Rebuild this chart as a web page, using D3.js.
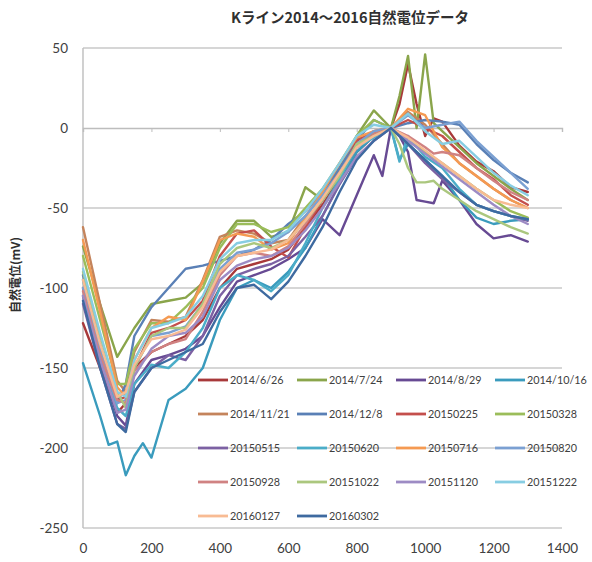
<!DOCTYPE html>
<html>
<head>
<meta charset="utf-8">
<script src="https://cdn.jsdelivr.net/npm/d3@7"></script>
<style>
  html, body { margin: 0; padding: 0; background: #fff; }
  svg { display: block; }
  .num { font-family: Lato, "Liberation Sans", sans-serif; fill: #404040; }
  .jp { font-family: "Noto Sans CJK JP", sans-serif; fill: #303030; }
</style>
</head>
<body>
<svg id="chart" width="592" height="562"></svg>
<script>
// Measurement positions along the K line (m); null = not measured at that point
const _ = null;
const positions = [0, 50, 75, 100, 125, 150, 175, 200, 250, 300, 350, 400, 450, 500, 550, 600, 650, 700,
                   750, 800, 850, 875, 900, 925, 950, 975, 1000, 1025, 1050, 1100, 1150, 1200, 1250, 1300];

const seriesNames = ["2014/6/26", "2014/7/24", "2014/8/29", "2014/10/16", "2014/11/21", "2014/12/8",
                     "20150225", "20150328", "20150515", "20150620", "20150716", "20150820",
                     "20150928", "20151022", "20151120", "20151222", "20160127", "20160302"];

const seriesColors = ["#a8393a", "#8aa54b", "#674a93", "#3a9bbd", "#c4845c", "#5a80b6",
                      "#c44f4c", "#9bbd5a", "#7c61a3", "#4badc8", "#f59a52", "#7ba0d2",
                      "#d08282", "#abc77e", "#9d8bc4", "#87cde2", "#f8bb93", "#3e6aa0"];

// Self potential (mV), one array per survey date, aligned with `positions`
const v20140626 = [-122,-150,_,-178,-172,-150,_,-140,-135,-130,-120,-100,-88,-85,-82,-76,-62,-48,-32,-15,-5,_,0,15,40,15,-5,6,4,-11,-21,-27,-37,-40];
const v20140724 = [-74,-110,_,-143,_,-125,_,-110,-108,-106,-97,-72,-58,-58,-68,-65,-37,-45,-25,-5,11,_,0,20,45,0,46,3,-2,-12,-22,-30,-38,-45];
const v20140829 = [-105,-145,_,-180,-186,-160,_,-145,-142,-138,-130,-112,-96,-92,-88,-82,-75,-57,-67,-42,-17,-30,0,-5,-15,-45,-46,-47,-33,-45,-60,-69,-67,-71];
const v20141016 = [-147,-180,-198,-196,-217,-205,-197,-206,-170,-163,-150,-120,-100,-95,-100,-90,-75,-55,-35,-15,-5,_,0,-20,-10,_,-20,_,-30,-45,-56,-60,-58,-57];
const v20141121 = [-62,-110,_,-158,-165,-140,_,-120,-121,-118,-95,-68,-64,-66,-72,-70,-55,-42,-25,-10,-3,_,0,_,10,_,2,_,-10,-22,-30,-38,-45,-50];
const v20141208 = [-92,-135,_,-172,-160,-130,_,-112,-100,-88,-86,-83,-80,-76,-70,-60,-52,-40,-25,-8,5,_,0,_,3,_,5,_,4,2,-10,-20,-28,-34];
const v20150225 = [-100,-140,_,-170,-168,-150,_,-128,-125,-120,-108,-80,-66,-64,-74,-81,-62,-45,-30,-8,-2,_,0,_,5,_,0,_,-5,-15,-25,-32,-42,-48];
const v20150328 = [-80,-120,_,-160,-160,-138,_,-122,-122,-112,-100,-75,-60,-60,-65,-62,-50,-38,-22,-5,5,_,0,_,-8,_,-15,_,-22,-30,-38,-45,-52,-56];
const v20150515 = [-110,-150,_,-185,-188,-165,_,-150,-142,-145,-130,-105,-92,-88,-85,-80,-68,-55,-35,-18,-8,_,0,_,-10,_,-22,_,-32,-40,-48,-52,-55,-58];
const v20150620 = [-95,-140,_,-175,-180,-160,_,-148,-150,-140,-125,-100,-92,-95,-102,-92,-72,-50,-32,-12,-6,_,0,-21,-5,_,-18,_,-25,-38,-48,-52,-55,-57];
const v20150716 = [-70,-115,_,-162,-168,-145,_,-125,-118,-120,-96,-70,-66,-68,-76,-72,-56,-40,-22,-6,-2,_,0,_,12,_,8,_,-12,-22,-30,-38,-45,-50];
const v20150820 = [-100,-140,_,-172,-170,-150,_,-130,-128,-124,-110,-88,-78,-76,-72,-65,-55,-42,-28,-10,-2,_,0,_,8,_,0,_,2,4,-8,-18,-28,-38];
const v20150928 = [-102,-142,_,-170,-172,-152,_,-140,-135,-132,-115,-92,-80,-78,-80,-74,-60,-44,-28,-12,-4,_,0,_,-5,_,-12,-16,-15,-17,-25,-33,-40,-45];
const v20151022 = [-90,-130,_,-165,-175,-150,_,-130,-125,-125,-110,-85,-75,-72,-75,-70,-58,-45,-30,-10,-5,_,0,-10,-25,-34,-34,-33,-38,-45,-52,-57,-62,-66];
const v20151120 = [-105,-145,_,-178,-176,-155,_,-138,-130,-128,-118,-95,-86,-82,-80,-75,-64,-50,-34,-18,-8,_,0,_,-8,_,-16,_,-24,-32,-40,-48,-55,-60];
const v20151222 = [-88,-128,_,-165,-168,-145,_,-125,-122,-118,-105,-82,-72,-70,-70,-64,-52,-38,-22,-5,2,_,0,_,9,_,-2,_,-10,-8,-18,-28,-36,-42];
const v20160127 = [-95,-135,_,-168,-165,-148,_,-132,-130,-126,-112,-90,-80,-78,-76,-70,-58,-44,-28,-12,-5,_,0,_,-6,_,-14,_,-22,-30,-38,-45,-48,-50];
const v20160302 = [-108,-150,_,-185,-190,-165,_,-150,-145,-140,-135,-115,-100,-98,-107,-96,-80,-62,-40,-20,-8,_,0,_,-10,_,-20,_,-30,-40,-48,-52,-55,-57];

const seriesValues = [v20140626, v20140724, v20140829, v20141016, v20141121, v20141208,
                      v20150225, v20150328, v20150515, v20150620, v20150716, v20150820,
                      v20150928, v20151022, v20151120, v20151222, v20160127, v20160302];

const xTicks = [0, 200, 400, 600, 800, 1000, 1200, 1400];
const yTicks = [50, 0, -50, -100, -150, -200, -250];

const titleText = "Kライン2014～2016自然電位データ";
const yTitleText = "自然電位(mV)";

// Plain integers with an ASCII hyphen for negatives
const fmt = d => String(d);

const svg = d3.select("#chart");
const x = d3.scaleLinear().domain([0, 1400]).range([83, 562]);
const y = d3.scaleLinear().domain([-250, 50]).range([528, 48]);

// Horizontal gridlines
svg.append("g").selectAll("line")
  .data(yTicks.filter(t => t !== 0))
  .join("line")
  .attr("x1", x(0)).attr("x2", x(1400))
  .attr("y1", d => y(d)).attr("y2", d => y(d))
  .attr("stroke", "#c9c9c9").attr("stroke-width", 1.4);

// Vertical axis line
svg.append("line")
  .attr("x1", x(0)).attr("x2", x(0))
  .attr("y1", y(50)).attr("y2", y(-250))
  .attr("stroke", "#bdbdbd").attr("stroke-width", 1.4);

// Horizontal axis crosses at 0 with small tick marks
const zeroAxis = svg.append("g").attr("transform", `translate(0,${y(0)})`)
  .call(d3.axisBottom(x).tickValues(xTicks).tickSize(4).tickFormat(""));
zeroAxis.select(".domain").attr("stroke", "#bdbdbd").attr("stroke-width", 1.4);
zeroAxis.selectAll(".tick line").attr("stroke", "#bdbdbd");

// Tick labels (x labels sit below the plot)
const xLab = svg.append("g").attr("transform", `translate(0,${y(-250)})`)
  .call(d3.axisBottom(x).tickValues(xTicks).tickSize(0).tickPadding(15).tickFormat(fmt));
xLab.select(".domain").remove();
xLab.selectAll("text").attr("class", "num").attr("font-size", 13.5);

const yLab = svg.append("g").attr("transform", `translate(${x(0)},0)`)
  .call(d3.axisLeft(y).tickValues(yTicks).tickSize(0).tickPadding(15).tickFormat(fmt));
yLab.select(".domain").remove();
yLab.selectAll("text").attr("class", "num").attr("font-size", 13.5);

// Series lines
const line = d3.line()
  .x(d => x(d[0]))
  .y(d => y(d[1]));

seriesValues.forEach((vals, i) => {
  const pts = positions.map((p, j) => [p, vals[j]]).filter(d => d[1] !== null);
  svg.append("path")
    .datum(pts)
    .attr("d", line)
    .attr("fill", "none")
    .attr("stroke", seriesColors[i])
    .attr("stroke-width", 2.4)
    .attr("stroke-linejoin", "round")
    .attr("stroke-linecap", "round");
});

// Legend: 4 columns
const legend = svg.append("g");
seriesNames.forEach((name, i) => {
  const col = i % 4, row = Math.floor(i / 4);
  const lx = 198 + col * 99, ly = 380 + row * 34;
  const g = legend.append("g").attr("transform", `translate(${lx},${ly})`);
  g.append("line").attr("x1", 0).attr("x2", 30).attr("y1", 0).attr("y2", 0)
    .attr("stroke", seriesColors[i]).attr("stroke-width", 2.8);
  g.append("text").attr("class", "num").attr("x", 32).attr("y", 0).attr("dy", "0.35em")
    .attr("font-size", 10.8).text(name);
});

// Titles
svg.append("text").attr("class", "jp")
  .attr("x", 350).attr("y", 23).attr("text-anchor", "middle")
  .attr("font-size", 14.5).attr("font-weight", "bold").text(titleText);

svg.append("text").attr("class", "jp")
  .attr("transform", `translate(20,275) rotate(-90)`)
  .attr("text-anchor", "middle")
  .attr("font-size", 12).attr("font-weight", "bold").text(yTitleText);
</script>
</body>
</html>
